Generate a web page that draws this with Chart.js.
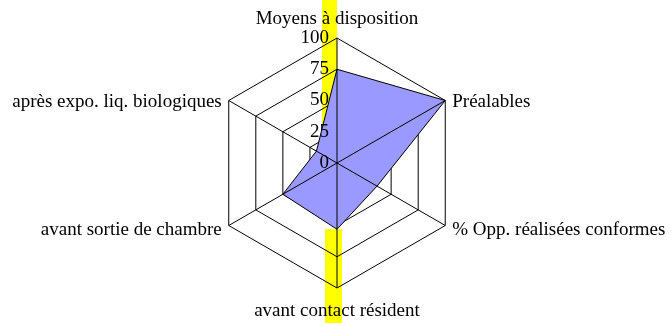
<!DOCTYPE html>
<html lang="fr">
<head>
<meta charset="utf-8">
<title>Radar</title>
<script src="https://cdn.jsdelivr.net/npm/chart.js@4.4.1/dist/chart.umd.min.js"></script>
<style>
  html, body { margin: 0; padding: 0; background: #fff; }
  canvas { display: block; }
</style>
</head>
<body>
<canvas id="radarChart" width="671" height="323"></canvas>
<script>
const categories = [
    'Moyens à disposition',
    'Préalables',
    '% Opp. réalisées conformes',
    'avant contact résident',
    'avant sortie de chambre',
    'après expo. liq. biologiques'
];
const scores = [75, 100, 37, 53, 50, 19];
const tickValues = [0, 25, 50, 75, 100];

const FONT = '19px "Liberation Serif", "Times New Roman", serif';

// --- Extra drawing: yellow highlight, axis lines on top, labels ---
const radarDecor = {
    id: 'radarDecor',
    beforeDraw(chart) {
        const ctx = chart.ctx;
        const r = chart.scales.r;
        const bottomPt = r.getPointPosition(3, r.getDistanceFromCenterForValue(scores[3]));
        ctx.save();
        ctx.fillStyle = '#ffffff';
        ctx.fillRect(0, 0, chart.width, chart.height);
        ctx.fillStyle = '#ffff00';
        ctx.fillRect(r.xCenter - 15, 0, 15, r.yCenter);
        ctx.fillRect(r.xCenter - 12, bottomPt.y, 17, chart.height - bottomPt.y);
        ctx.restore();
    },
    afterDatasetsDraw(chart) {
        const ctx = chart.ctx;
        const r = chart.scales.r;
        ctx.save();

        // angle lines sit above the filled area in the original
        ctx.strokeStyle = '#000';
        ctx.lineWidth = 1;
        categories.forEach((c, i) => {
            const pt = r.getPointPosition(i, r.drawingArea);
            ctx.beginPath();
            ctx.moveTo(r.xCenter, r.yCenter);
            ctx.lineTo(pt.x, pt.y);
            ctx.stroke();
        });

        ctx.fillStyle = '#000';
        ctx.font = FONT;

        // tick labels, right aligned next to the vertical axis
        ctx.textAlign = 'right';
        ctx.textBaseline = 'middle';
        tickValues.forEach(v => {
            const y = r.yCenter - r.getDistanceFromCenterForValue(v);
            ctx.fillText(String(v), r.xCenter - 8, y);
        });

        // point labels
        ctx.textBaseline = 'alphabetic';
        categories.forEach((label, i) => {
            const pt = r.getPointPosition(i, r.drawingArea);
            if (i === 0) {
                ctx.textAlign = 'center';
                ctx.fillText(label, pt.x, pt.y - 14);
            } else if (i === 3) {
                ctx.textAlign = 'center';
                ctx.fillText(label, pt.x, pt.y + 28);
            } else if (i === 1 || i === 2) {
                ctx.textAlign = 'left';
                ctx.fillText(label, pt.x + 7, pt.y + (i === 1 ? 6 : 9.5));
            } else {
                ctx.textAlign = 'right';
                ctx.fillText(label, pt.x - 7, pt.y + (i === 5 ? 6 : 9.5));
            }
        });

        ctx.restore();
    }
};

// --- Chart ---
new Chart(document.getElementById('radarChart'), {
    type: 'radar',
    data: {
        labels: categories,
        datasets: [{
            data: scores,
            backgroundColor: '#9999ff',
            borderColor: '#000000',
            borderWidth: 1,
            pointRadius: 0,
            fill: true
        }]
    },
    options: {
        responsive: false,
        animation: false,
        layout: { padding: { top: 38, bottom: 35, left: 3, right: 0 } },
        scales: {
            r: {
                min: 0,
                max: 100,
                ticks: { display: false, stepSize: 25 },
                grid: { color: '#000000', lineWidth: 1 },
                angleLines: { display: false },
                pointLabels: { display: false }
            }
        },
        plugins: {
            legend: { display: false },
            tooltip: { enabled: false }
        }
    },
    plugins: [radarDecor]
});
</script>
</body>
</html>
